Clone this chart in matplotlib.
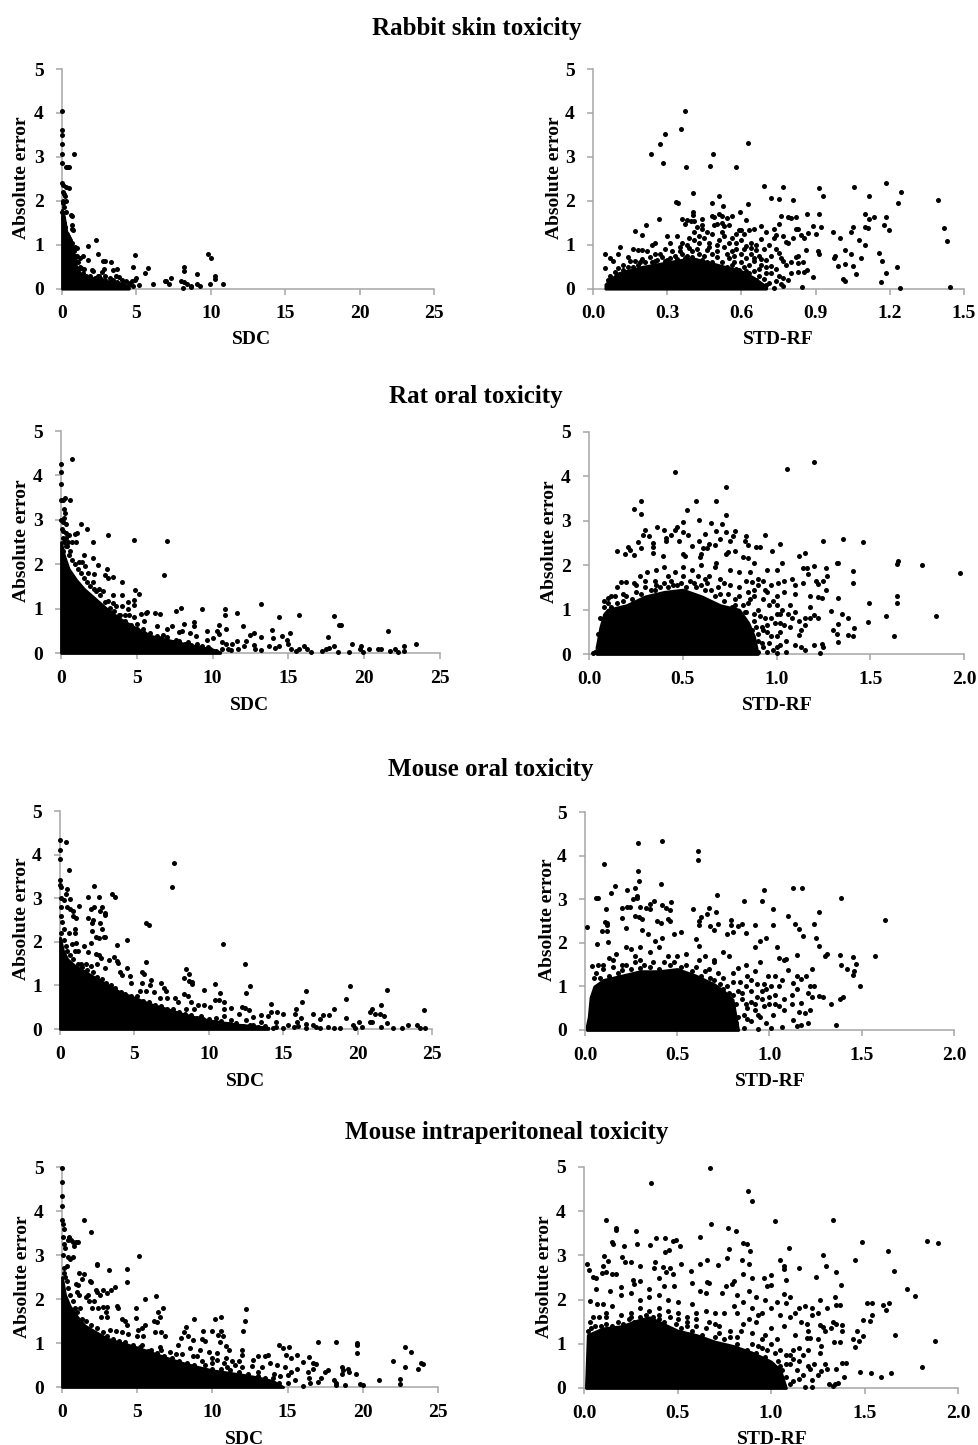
import matplotlib
matplotlib.use("Agg")
import matplotlib.pyplot as plt

W, H = 979, 1445
plt.rcParams['font.family'] = ['Liberation Serif', 'DejaVu Serif']
plt.rcParams['font.weight'] = 'bold'

titles = ["Rabbit skin toxicity", "Rat oral toxicity", "Mouse oral toxicity", "Mouse intraperitoneal toxicity"]
sdc_ticks = [0, 5, 10, 15, 20, 25]
rf_ticks_a = [0.0, 0.3, 0.6, 0.9, 1.2, 1.5]
rf_ticks_b = [0.0, 0.5, 1.0, 1.5, 2.0]
err_ticks = [0, 1, 2, 3, 4, 5]

# Solid black mass of overlapping points: (x, upper error) outline
rabbit_sdc_core = [(0,1.8),(0.1,1.7),(0.3,1.3),(0.5,1.0),(0.7,0.85),(1.0,0.45),(1.3,0.3),(2,0.25),(3,0.18),(4,0.1),(4.5,0.05)]
rabbit_rf_core = [(0.05,0.1),(0.1,0.35),(0.2,0.5),(0.3,0.6),(0.4,0.7),(0.5,0.55),(0.6,0.4),(0.65,0.25),(0.7,0.05)]
rat_sdc_core = [(0,2.5),(0.2,2.2),(0.5,1.9),(1,1.65),(1.5,1.45),(2,1.3),(2.5,1.15),(3,1.0),(3.5,0.87),(4,0.75),(5,0.55),(6,0.38),(7,0.3),(8,0.22),(9,0.15),(10,0.08),(10.5,0.02)]
rat_rf_core = [(0.04,0.15),(0.06,0.6),(0.08,0.9),(0.1,1.0),(0.2,1.1),(0.3,1.3),(0.4,1.4),(0.5,1.45),(0.6,1.3),(0.7,1.1),(0.8,1.0),(0.85,0.7),(0.88,0.4),(0.9,0.0)]
mouse_sdc_core = [(0,2.1),(0.2,1.8),(0.5,1.6),(1,1.45),(1.5,1.35),(2,1.25),(3,1.05),(4,0.85),(5,0.72),(6,0.58),(7,0.48),(8,0.37),(9,0.28),(10,0.2),(11,0.15),(12,0.1),(13,0.07),(14,0.03)]
mouse_rf_core = [(0.01,0.1),(0.02,0.3),(0.03,0.75),(0.05,1.0),(0.1,1.15),(0.2,1.25),(0.3,1.35),(0.4,1.35),(0.5,1.4),(0.6,1.25),(0.7,1.05),(0.75,0.9),(0.8,0.7),(0.83,0.0)]
ip_sdc_core = [(0,2.5),(0.2,2.1),(0.5,1.85),(1,1.6),(1.5,1.4),(2,1.3),(3,1.1),(4,1.0),(5,0.9),(6,0.78),(7,0.66),(8,0.55),(9,0.46),(10,0.38),(11,0.33),(12,0.28),(13,0.22),(14,0.14),(14.7,0.0)]
ip_rf_core = [(0.01,0.0),(0.02,1.2),(0.1,1.35),(0.2,1.4),(0.3,1.55),(0.35,1.6),(0.4,1.5),(0.5,1.3),(0.6,1.2),(0.7,1.05),(0.8,0.95),(0.9,0.8),(0.95,0.7),(1.0,0.6),(1.05,0.4),(1.08,0.0)]

# Individual points: (uncertainty, absolute error)
rabbit_sdc_pts = [(0,4.05),(0,3.62),(0,3.5),(0,3.3),(0.02,3.07),(0.82,3.06),(0,2.85),(0.25,2.78),(0.4,2.76),(0.5,2.77),(0,2.4),(0.1,2.35),(0.3,2.32),(0.5,2.3),(0.1,2.2),(0.2,2.1),(0.05,2.0),(0.6,1.68),(0.65,1.65),(0.65,1.45),(0.7,1.35),(0.75,1.33),(2.3,1.1),(1.75,0.97),(0.9,0.95),(1.0,0.93),(2.4,0.8),(4.9,0.77),(9.8,0.78),(10.0,0.7),(1.4,0.75),(1.2,0.7),(1.75,0.65),(2.75,0.63),(2.9,0.62),(3.3,0.6),(4.8,0.49),(5.8,0.48),(5.6,0.36),(8.2,0.5),(8.2,0.4),(10.25,0.3),(10.3,0.22),(9.05,0.34),(7.3,0.25),(6.9,0.17),(7.0,0.18),(7.2,0.11),(8.0,0.17),(8.2,0.15),(8.4,0.1),(8.15,0.02),(8.65,0.03),(8.7,0.06),(9.05,0.1),(9.25,0.07),(9.95,0.1),(10.85,0.1),(6.1,0.1),(5.2,0.08),(5.0,0.25),(4.9,0.2),(4.7,0.18),(3.7,0.45),(3.4,0.42),(2.85,0.45),(2.7,0.38),(2.0,0.42),(2.1,0.4),(3.6,0.28),(3.85,0.27),(3.2,0.25),(4.3,0.17),(1.5,0.45),(1.3,0.48),(0.4,1.2),(0.55,1.1),(0.7,1.05),(0.8,0.85),(1.0,0.75),(0.9,0.65),(1.2,0.5),(2.5,0.28),(2.9,0.2),(3.3,0.18),(4.0,0.12),(4.5,0.1)]
rabbit_sdc_band = [(0.02,1.75),(0.1,1.6),(0.15,1.5),(0.2,1.4),(0.35,1.25),(0.45,1.15),(0.6,1.0),(0.75,0.9),(0.85,0.75),(1.05,0.6),(1.15,0.45),(1.4,0.35),(1.6,0.28),(1.9,0.3),(2.2,0.25),(2.4,0.3),(2.6,0.22),(2.9,0.28),(3.1,0.12),(3.4,0.2),(3.7,0.15),(4.0,0.2),(4.2,0.08),(4.6,0.14),(4.8,0.06),(0.05,1.95),(0.15,1.85),(0.3,1.75),(0.25,2.0),(0.15,2.15)]
rabbit_rf_pts = [(0.37,4.05),(0.355,3.63),(0.29,3.52),(0.27,3.29),(0.235,3.06),(0.285,2.86),(0.375,2.77),(0.485,3.07),(0.475,2.8),(0.58,2.76),(0.625,3.31),(0.69,2.34),(0.77,2.31),(0.915,2.29),(0.93,2.1),(1.055,2.32),(1.115,2.12),(1.185,2.4),(1.245,2.2),(1.235,1.94),(1.395,2.02),(1.42,1.39),(1.43,1.09),(1.445,0.05),(1.24,0.02),(1.23,0.5),(1.185,0.35),(1.165,0.15),(1.17,0.64),(1.155,0.82),(1.195,1.33),(1.185,1.63),(1.175,1.45),(1.135,1.63),(1.115,1.58),(1.1,1.7),(1.1,1.4),(1.11,1.38),(1.1,1.0),(1.075,1.1),(1.085,0.69),(1.065,0.33),(1.05,1.4),(1.045,1.28),(1.045,0.78),(1.05,0.52),(1.02,0.87),(1.02,0.57),(1.0,1.15),(1.01,0.22),(1.02,0.17),(0.99,0.52),(0.975,0.7),(0.98,0.75),(0.97,1.28),(0.915,1.7),(0.92,1.4),(0.91,0.85),(0.915,0.78),(0.89,1.42),(0.865,1.71),(0.9,1.24),(0.87,1.27),(0.855,1.15),(0.86,0.88),(0.89,0.26),(0.865,0.42),(0.855,0.38),(0.85,0.6),(0.83,0.58),(0.845,0.05),(0.81,2.03),(0.75,2.04),(0.72,2.06),(0.51,2.12),(0.405,2.17),(0.335,1.97),(0.345,1.94),(0.48,1.96),(0.625,1.93),(0.525,1.88),(0.595,1.74),(0.405,1.75),(0.405,1.68),(0.265,1.59),(0.215,1.46),(0.17,1.32),(0.2,1.22),(0.05,0.78),(0.07,0.7),(0.11,0.95),(0.05,0.46),(0.36,1.58),(0.38,1.57),(0.395,1.55),(0.41,1.53),(0.44,1.58),(0.37,1.47),(0.42,1.4),(0.44,1.45),(0.48,1.65),(0.49,1.63),(0.51,1.69),(0.52,1.65),(0.54,1.62),(0.56,1.65),(0.62,1.56),(0.59,1.33),(0.6,1.33),(0.49,1.45),(0.5,1.48),(0.52,1.5),(0.53,1.42),(0.55,1.45),(0.61,1.25),(0.63,1.33),(0.65,1.35),(0.68,1.43),(0.7,1.3),(0.73,1.37),(0.75,1.47),(0.76,1.65),(0.79,1.63),(0.8,1.6),(0.82,1.64),(0.77,1.2),(0.74,1.23),(0.73,1.15),(0.82,1.35),(0.83,1.37),(0.84,1.22),(0.81,1.15),(0.79,1.05),(0.78,1.07),(0.83,0.75),(0.82,0.72),(0.8,0.6),(0.77,0.63),(0.78,0.55),(0.8,0.35),(0.83,0.37),(0.79,0.2),(0.77,0.25),(0.75,0.28),(0.74,0.18),(0.73,0.02),(0.76,0.1),(0.77,0.07),(0.72,0.52),(0.7,0.65),(0.72,0.75),(0.74,0.9),(0.75,0.82),(0.69,0.9),(0.66,1.0),(0.64,1.05),(0.62,0.98),(0.6,1.1),(0.58,1.05),(0.56,1.15),(0.53,1.2),(0.51,1.1),(0.48,1.25),(0.46,1.28),(0.45,1.15),(0.43,1.2),(0.41,1.1),(0.38,1.0),(0.36,1.05),(0.34,1.2),(0.35,0.95),(0.32,0.85),(0.3,1.2),(0.31,1.05),(0.29,0.9),(0.25,1.05),(0.24,1.0),(0.27,0.8),(0.25,0.8),(0.22,0.85),(0.2,0.88),(0.18,0.88),(0.16,0.9),(0.14,0.72),(0.17,0.62),(0.2,0.68),(0.12,0.55),(0.1,0.47),(0.1,0.8),(0.08,0.62),(0.47,0.95),(0.5,0.85),(0.53,0.95),(0.56,0.85),(0.6,0.8),(0.64,0.8),(0.67,0.75),(0.65,0.62),(0.68,0.55),(0.63,0.55),(0.6,0.6),(0.55,0.7),(0.5,0.72),(0.45,0.75),(0.4,0.85),(0.42,0.9),(0.33,0.75),(0.7,0.35),(0.67,0.3),(0.65,0.1),(0.7,0.08),(0.66,0.2),(0.71,0.12),(0.58,0.45),(0.62,0.4),(0.56,0.55),(0.48,0.6),(0.44,0.65),(0.37,0.7),(0.3,0.65),(0.25,0.62)]
rabbit_rf_band = [(0.06,0.2),(0.07,0.3),(0.09,0.38),(0.12,0.42),(0.14,0.5),(0.16,0.5),(0.18,0.55),(0.21,0.6),(0.24,0.6),(0.26,0.65),(0.29,0.62),(0.31,0.7),(0.34,0.68),(0.36,0.8),(0.38,0.75),(0.4,0.72),(0.43,0.8),(0.46,0.6),(0.48,0.8),(0.52,0.6),(0.54,0.5),(0.57,0.6),(0.59,0.42),(0.61,0.5),(0.63,0.35),(0.65,0.4),(0.67,0.45),(0.69,0.22),(0.62,0.7),(0.66,0.88),(0.7,0.5),(0.47,1.05),(0.5,1.0),(0.52,1.3),(0.55,1.05),(0.58,0.9),(0.61,0.9),(0.43,1.05),(0.39,1.15),(0.35,0.85),(0.39,0.92),(0.44,1.35),(0.46,0.88),(0.54,0.8),(0.57,0.75),(0.64,0.92),(0.68,0.68),(0.72,0.35),(0.74,0.45),(0.76,0.7),(0.68,1.12),(0.71,1.0),(0.65,0.7),(0.58,1.25),(0.41,1.3),(0.28,0.72),(0.23,0.72),(0.19,0.6),(0.15,0.62),(0.13,0.38),(0.08,0.12)]
rat_sdc_pts = [(0,4.25),(0,4.07),(0,3.8),(0,3.45),(0.75,4.38),(0.1,3.45),(0.25,3.5),(0.6,3.45),(0.2,3.25),(0.25,3.15),(0.2,3.05),(0,3.0),(0.15,2.95),(1.35,2.9),(1.7,2.8),(0.9,2.67),(1.05,2.7),(3.1,2.65),(4.8,2.55),(7.0,2.52),(6.8,1.75),(2.1,2.5),(1.0,2.5),(0.7,2.5),(0.3,2.7),(0.5,2.65),(0.4,2.4),(0.6,2.3),(1.5,2.2),(2.1,2.13),(2.45,1.98),(1.2,2.05),(1.4,2.05),(1.6,1.95),(3.05,1.9),(2.2,1.78),(1.8,1.8),(2.9,1.75),(3.1,1.68),(3.45,1.72),(4.05,1.6),(2.1,1.6),(1.7,1.6),(2.5,1.45),(2.3,1.4),(2.8,1.4),(4.85,1.43),(5.15,1.33),(4.8,1.2),(4.8,1.08),(4.45,1.15),(4.0,1.3),(3.4,1.3),(3.1,1.18),(3.4,1.12),(3.6,1.05),(4.0,1.05),(4.4,1.0),(3.9,0.85),(4.2,0.85),(4.5,0.85),(4.8,0.82),(5.3,0.87),(5.6,0.9),(5.7,0.92),(6.2,0.9),(6.5,0.88),(7.6,0.95),(7.9,1.02),(9.3,1.0),(10.8,0.99),(10.8,0.85),(11.6,0.9),(13.2,1.1),(14.4,0.8),(15.7,0.85),(18,0.83),(18.35,0.62),(18.5,0.62),(21.6,0.5),(23.4,0.2),(22.6,0.16),(22.6,0.05),(22,0.1),(21.7,0.05),(22.2,0.02),(21.1,0.08),(20.9,0.08),(20.3,0.09),(19.8,0.15),(19.7,0.08),(19.9,0.03),(19.2,0.2),(19,0.03),(18.3,0.03),(18,0.15),(17.6,0.35),(17.7,0.12),(17.5,0.08),(17.2,0.05),(16.5,0.03),(16.2,0.08),(16,0.15),(15.7,0.1),(15.5,0.05),(15.2,0.08),(15.1,0.45),(14.6,0.38),(14.9,0.3),(15,0.2),(14.4,0.15),(14,0.33),(13.9,0.52),(14.1,0.12),(13.7,0.15),(13.2,0.35),(13.2,0.07),(12.7,0.45),(12.5,0.4),(12.7,0.18),(12.8,0.1),(12.2,0.28),(12,0.6),(11.6,0.27),(12.1,0.15),(11.7,0.08),(11.3,0.2),(10.9,0.55),(10.4,0.62),(10.3,0.5),(10.4,0.42),(10,0.33),(9.6,0.5),(9.6,0.3),(9.3,0.15),(8.8,0.7),(8.8,0.6),(8.1,0.65),(8,0.5),(8.5,0.45),(8.9,0.38),(7.8,0.48),(7.3,0.6),(7,0.55),(6.7,0.4),(6.3,0.6),(5.5,0.72),(5,0.65),(5.4,0.55),(10.9,0.2),(11,0.1),(10.6,0.25),(9.8,0.1),(9,0.2),(8.4,0.25),(7.6,0.3)]
rat_sdc_band = [(0.1,2.6),(0.2,2.5),(0.35,2.4),(0.5,2.2),(0.7,2.1),(0.9,2.0),(1.1,1.9),(1.3,1.8),(1.5,1.7),(1.9,1.5),(2.2,1.45),(2.6,1.3),(2.9,1.15),(3.2,1.02),(3.5,0.95),(3.8,0.85),(4.2,0.72),(4.6,0.62),(5.0,0.55),(5.5,0.45),(5.9,0.45),(6.3,0.38),(6.6,0.33),(7.0,0.35),(7.4,0.25),(7.8,0.28),(8.2,0.2),(8.6,0.18),(9.2,0.1),(9.7,0.13),(10.2,0.05),(10.6,0.1),(11.2,0.07),(0.05,2.8),(0.3,2.9),(0.1,2.3),(0.15,2.75),(0.3,2.6),(0.45,2.5)]
rat_rf_pts = [(0.02,0.02),(0.03,0.05),(1.2,4.32),(1.055,4.17),(0.46,4.1),(0.73,3.76),(0.28,3.44),(0.24,3.27),(0.28,3.15),(0.57,3.45),(0.68,3.44),(0.525,3.25),(0.73,3.12),(0.5,2.98),(0.585,3.01),(0.65,2.95),(0.71,2.92),(0.3,2.8),(0.365,2.85),(0.4,2.8),(0.46,2.8),(0.47,2.87),(0.5,2.75),(0.53,2.68),(0.62,2.7),(0.68,2.77),(0.73,2.75),(0.78,2.77),(0.84,2.66),(0.94,2.68),(0.29,2.67),(0.32,2.65),(0.26,2.53),(0.34,2.5),(0.34,2.42),(0.41,2.55),(0.41,2.62),(0.44,2.67),(0.48,2.55),(0.585,2.55),(0.55,2.43),(0.61,2.38),(0.64,2.47),(0.67,2.45),(0.7,2.6),(0.75,2.55),(0.77,2.65),(0.83,2.55),(0.85,2.45),(0.89,2.42),(0.91,2.4),(0.975,2.33),(1.02,2.48),(1.25,2.54),(1.355,2.58),(1.46,2.53),(0.15,2.33),(0.21,2.4),(0.22,2.35),(0.19,2.25),(0.24,2.22),(0.28,2.38),(0.34,2.27),(0.395,2.2),(0.5,2.25),(0.51,2.2),(0.59,2.18),(0.6,2.25),(0.63,2.38),(0.74,2.3),(0.78,2.32),(0.73,2.25),(0.68,2.05),(0.82,2.18),(0.85,2.17),(0.88,2.05),(0.95,1.9),(1.0,1.9),(1.03,2.05),(1.12,2.2),(1.15,2.28),(1.14,1.93),(1.16,1.93),(1.2,1.98),(1.265,1.93),(1.32,2.04),(1.33,2.05),(1.41,1.86),(1.41,1.6),(1.64,2.03),(1.65,2.1),(1.775,2.0),(1.98,1.83),(1.25,1.65),(1.27,1.75),(1.265,1.45),(1.21,1.65),(1.22,1.57),(1.18,1.3),(1.22,1.28),(1.24,1.27),(1.33,1.27),(1.29,0.97),(1.35,0.9),(1.38,0.8),(1.415,0.58),(1.38,0.42),(1.41,0.4),(1.33,0.68),(1.3,0.53),(1.32,0.45),(1.33,0.28),(1.495,1.14),(1.49,0.72),(1.585,0.85),(1.625,0.41),(1.645,1.14),(1.645,1.31),(1.85,0.85),(1.23,0.03),(1.25,0.15),(1.24,0.22),(1.2,0.2),(1.22,0.82),(1.2,0.88),(1.18,0.82),(1.18,1.05),(1.15,0.8),(1.15,0.65),(1.13,0.55),(1.12,0.42),(1.14,1.6),(1.17,1.8),(1.1,1.55),(1.08,1.7),(1.1,1.35),(1.07,1.1),(1.04,1.4),(1.04,1.65),(1.01,1.6),(0.97,1.55),(0.93,1.65),(0.9,1.7),(0.87,1.62),(0.84,1.65),(0.8,1.5),(0.75,1.55),(0.72,1.6),(0.64,1.75),(0.58,1.75),(0.55,1.9),(0.5,1.95),(0.46,1.85),(0.4,1.95),(0.36,1.9),(0.31,1.85),(0.27,1.75),(0.3,1.65),(0.24,1.6),(0.2,1.62),(0.17,1.62),(0.15,1.5),(0.12,1.3),(0.1,1.27),(0.08,1.2),(0.6,2.0),(0.67,1.95),(0.75,1.9),(0.8,1.85),(0.86,1.85),(0.95,1.4),(1.0,1.3),(0.93,1.25),(0.88,1.3),(0.85,1.15),(0.9,1.0),(0.96,1.1),(1.03,1.0),(1.0,0.9),(0.94,0.8),(0.88,0.75),(1.02,0.7),(1.08,0.8),(1.07,0.6),(0.95,0.5),(0.9,0.45),(1.0,0.4),(1.05,0.3),(1.1,0.2),(1.13,0.15),(1.15,0.1),(1.05,0.05),(0.98,0.1),(0.93,0.15),(0.88,0.25),(0.85,0.35),(0.85,0.55),(0.82,0.75),(0.83,0.95),(0.78,1.1),(0.7,1.35),(0.65,1.45),(0.56,1.6),(0.45,1.55),(0.35,1.45),(0.96,0.25),(1.0,0.15),(0.92,0.6),(1.02,0.5),(0.88,0.1),(0.8,0.25),(0.78,0.4),(0.82,0.15),(1.1,0.95),(1.12,0.75)]
rat_rf_band = [(0.1,1.15),(0.12,1.05),(0.15,1.15),(0.18,1.2),(0.2,1.3),(0.23,1.25),(0.25,1.4),(0.28,1.35),(0.3,1.5),(0.33,1.45),(0.36,1.55),(0.38,1.5),(0.4,1.6),(0.42,1.5),(0.44,1.65),(0.47,1.55),(0.49,1.6),(0.52,1.5),(0.54,1.65),(0.57,1.5),(0.6,1.55),(0.62,1.45),(0.63,1.6),(0.67,1.3),(0.69,1.5),(0.72,1.2),(0.74,1.35),(0.76,1.05),(0.78,1.25),(0.8,1.3),(0.82,1.1),(0.84,0.95),(0.86,1.25),(0.88,1.45),(0.84,0.7),(0.87,0.55),(0.89,0.6),(0.91,0.85),(0.93,0.55),(0.9,0.3),(0.92,0.25),(0.95,0.65),(0.97,0.8),(0.99,0.7),(1.02,0.9),(1.04,0.65),(1.0,1.1),(1.06,0.9),(0.98,1.2),(0.9,1.55),(0.94,1.45),(0.85,1.4),(0.88,0.9),(0.85,0.15),(0.83,0.4),(0.86,0.05),(0.9,0.05),(0.95,0.05),(1.0,0.02),(1.02,0.2),(0.97,0.4),(0.35,1.65),(0.5,1.75),(0.62,1.7),(0.7,1.7),(0.42,1.75),(0.25,1.55),(0.18,1.35),(0.14,1.3),(0.08,1.05),(0.06,0.8),(0.05,0.45)]
mouse_sdc_pts = [(0,4.33),(0,4.1),(0,3.9),(0.4,4.28),(0.6,3.65),(0,3.42),(0.02,3.3),(0.1,3.25),(0.45,3.2),(0.4,3.1),(0.1,3.0),(0.3,2.95),(0.65,2.98),(0.1,2.8),(0.5,2.8),(0.7,2.75),(0.85,2.7),(0.9,2.6),(1.05,2.55),(1.25,2.83),(1.85,3.03),(2.3,3.27),(2.65,3.03),(3.5,3.1),(3.7,3.02),(2.85,2.8),(2.3,2.8),(2.1,2.75),(2.7,2.7),(3.05,2.65),(3.05,2.62),(1.9,2.55),(2.25,2.5),(2.15,2.42),(2.7,2.42),(2.85,2.3),(2.15,2.25),(2.4,2.1),(2.65,2.08),(2.95,2.12),(3.0,2.1),(1.0,2.3),(1.0,2.2),(0.6,2.2),(0.8,1.95),(1.05,1.98),(1.6,1.9),(2.1,1.98),(1.9,1.77),(1.2,1.8),(1.0,1.78),(2.6,1.7),(2.45,1.72),(3.85,1.92),(4.5,2.05),(3.6,1.65),(3.85,1.55),(3.9,1.52),(3.3,1.58),(5.75,1.53),(2.75,1.62),(2.5,1.5),(2.1,1.45),(1.75,1.5),(1.4,1.5),(3.0,1.4),(4.5,1.4),(4.0,1.3),(4.2,1.25),(4.7,1.22),(5.5,1.3),(5.65,1.27),(5.5,1.05),(6.1,1.12),(6.05,1.0),(4.75,1.05),(6.8,1.05),(7,0.95),(7.1,0.88),(5.8,2.42),(6.0,2.38),(7.5,3.25),(7.65,3.8),(10.95,1.95),(12.45,1.48),(8.5,1.37),(8.7,1.27),(8.3,1.17),(8.7,1.1),(8.85,1.08),(8.85,1.03),(9.7,0.9),(10.4,1.03),(10.75,0.83),(12.75,0.98),(12.5,0.83),(16.5,0.87),(16.25,0.63),(14.15,0.58),(19.5,0.99),(21.95,0.9),(19.2,0.68),(21,0.47),(21.6,0.55),(20.85,0.4),(21.2,0.35),(21.5,0.35),(21.8,0.3),(19.2,0.25),(18.4,0.45),(18.1,0.33),(17.7,0.32),(17.0,0.35),(15.85,0.47),(15.8,0.35),(24.45,0.43),(24,0.1),(23.4,0.1),(23.0,0.03),(22.4,0.02),(24.2,0.03),(24.5,0.03),(22,0.13),(21.6,0.05),(21,0.15),(20.8,0.15),(20.1,0.15),(19.7,0.1),(20.3,0.05),(19.8,0.03),(18.8,0.03),(18.4,0.03),(17.5,0.23),(17,0.1),(16.5,0.12),(16.2,0.25),(15.9,0.15),(15,0.35),(14.6,0.4),(14.2,0.4),(14,0.3),(13.5,0.33),(13,0.27),(12.7,0.43),(12.4,0.48),(12.2,0.5),(12,0.35),(11.5,0.48),(11,0.45),(11,0.62),(10.7,0.67),(10.4,0.67),(10.1,0.5),(9.7,0.55),(9.3,0.55),(8.8,0.62),(8.3,0.8),(8.6,0.75),(7.7,0.7),(7.9,0.62),(7.2,0.72),(6.7,0.7),(6.3,0.85),(5.8,0.88),(5.4,0.87),(9.5,0.3),(10.5,0.25),(11.5,0.2),(12.5,0.2),(13.5,0.15),(14.5,0.15),(15.3,0.1),(16,0.08),(17.2,0.05),(18,0.05),(13,0.1),(14.5,0.05),(11,0.3),(9,0.45),(8.5,0.45)]
mouse_sdc_band = [(0.1,2.2),(0.15,2.45),(0.05,2.6),(0.3,2.3),(0.25,2.05),(0.4,1.9),(0.5,1.8),(0.7,1.7),(0.9,1.6),(1.2,1.5),(1.5,1.42),(1.8,1.35),(2.2,1.3),(2.5,1.2),(2.8,1.15),(3.1,1.05),(3.4,1.0),(3.7,0.95),(4.1,0.85),(4.4,0.8),(4.8,0.75),(5.2,0.75),(5.6,0.65),(6,0.62),(6.4,0.55),(6.8,0.52),(7.2,0.45),(7.6,0.45),(8,0.38),(8.4,0.35),(8.8,0.33),(9.2,0.25),(9.6,0.22),(10,0.23),(10.4,0.15),(10.8,0.18),(11.3,0.12),(11.8,0.13),(12.3,0.08),(12.8,0.1),(13.3,0.05),(13.8,0.08),(14.3,0.03),(15,0.03),(15.7,0.04),(16.5,0.03),(17.5,0.03)]
mouse_rf_pts = [(0.01,2.37),(0.04,1.47),(0.06,3.03),(0.07,3.02),(0.105,3.8),(0.14,3.15),(0.165,3.3),(0.23,3.22),(0.26,3.0),(0.27,3.25),(0.285,4.28),(0.285,3.65),(0.29,3.42),(0.28,3.08),(0.28,3.03),(0.42,4.33),(0.41,3.35),(0.61,3.9),(0.615,4.1),(0.715,3.1),(0.97,3.2),(1.13,3.26),(1.175,3.25),(1.385,3.03),(1.625,2.52),(0.86,2.95),(0.96,2.95),(1.02,2.77),(1.1,2.62),(1.27,2.71),(0.115,2.77),(0.11,2.47),(0.12,2.45),(0.12,2.4),(0.09,2.28),(0.12,2.27),(0.125,2.02),(0.065,1.98),(0.2,2.8),(0.23,2.82),(0.245,2.83),(0.2,2.57),(0.22,2.34),(0.3,2.83),(0.27,2.62),(0.29,2.6),(0.31,2.55),(0.33,2.8),(0.355,2.78),(0.355,2.88),(0.375,2.95),(0.42,2.87),(0.39,2.5),(0.41,2.45),(0.44,2.8),(0.46,2.75),(0.45,2.55),(0.46,2.5),(0.465,2.93),(0.585,2.77),(0.63,2.6),(0.62,2.5),(0.62,2.4),(0.66,2.67),(0.67,2.8),(0.71,2.7),(0.72,2.42),(0.68,2.38),(0.7,2.3),(0.79,2.53),(0.79,2.4),(0.83,2.38),(0.85,2.42),(0.92,2.4),(1.02,2.4),(0.8,2.25),(0.77,2.2),(0.87,2.22),(0.95,2.05),(0.98,2.1),(0.62,1.93),(0.6,2.08),(0.52,2.25),(0.48,2.2),(0.42,2.1),(0.38,2.05),(0.34,2.2),(0.31,2.3),(0.3,1.9),(0.25,1.85),(0.22,1.9),(0.17,1.75),(0.13,1.65),(0.1,1.5),(0.07,1.5),(0.05,1.2),(0.2,1.5),(0.3,1.6),(0.4,1.9),(0.5,1.7),(0.55,1.75),(0.65,1.7),(0.7,1.55),(0.75,1.8),(0.78,1.7),(0.83,1.42),(0.87,1.5),(0.95,1.55),(0.92,1.9),(1.05,1.65),(1.08,1.6),(1.09,1.63),(1.04,1.9),(1.14,2.43),(1.16,2.32),(1.18,2.15),(1.24,2.42),(1.25,2.12),(1.27,1.93),(1.15,1.73),(1.3,1.7),(1.31,1.75),(1.38,1.72),(1.385,1.5),(1.42,1.4),(1.455,1.67),(1.47,1.52),(1.46,1.35),(1.455,1.27),(1.57,1.7),(1.49,1.02),(1.4,0.75),(1.38,0.7),(1.335,0.6),(1.36,0.12),(1.29,0.75),(1.27,0.78),(1.23,1.4),(1.24,1.02),(1.22,1.0),(1.2,1.23),(1.21,0.85),(1.23,0.75),(1.13,1.07),(1.15,1.23),(1.17,1.18),(1.15,0.95),(1.17,0.62),(1.19,0.4),(1.22,0.45),(1.21,0.15),(1.16,0.42),(1.13,0.22),(1.15,0.1),(1.17,0.12),(1.08,0.45),(1.07,0.08),(1.08,0.7),(1.12,0.8),(1.1,1.37),(1.07,1.15),(1.03,1.25),(0.99,1.25),(1.01,1.0),(1.03,0.8),(0.96,0.9),(0.93,0.75),(0.9,1.15),(0.87,1.0),(0.83,0.9),(0.8,1.1),(0.75,1.2),(0.72,1.3),(0.67,1.4),(0.85,0.7),(0.88,0.5),(0.92,0.45),(0.97,0.55),(1.02,0.35),(0.98,0.15),(1.01,0.05),(0.94,0.02),(0.9,0.2),(0.86,0.05),(0.83,0.3),(0.8,0.5),(0.82,0.6),(0.78,0.85),(0.9,0.65),(1.0,0.6),(0.95,0.3),(1.05,0.55),(0.8,0.1),(0.86,0.35),(0.92,1.35),(0.97,1.05),(1.12,0.6)]
mouse_rf_band = [(0.06,1.3),(0.08,1.2),(0.1,1.4),(0.13,1.25),(0.15,1.45),(0.18,1.3),(0.2,1.38),(0.22,1.5),(0.25,1.4),(0.27,1.55),(0.3,1.42),(0.32,1.5),(0.35,1.45),(0.37,1.55),(0.4,1.4),(0.43,1.55),(0.46,1.5),(0.48,1.55),(0.52,1.45),(0.55,1.5),(0.58,1.35),(0.6,1.45),(0.63,1.25),(0.65,1.35),(0.68,1.2),(0.7,1.15),(0.73,1.05),(0.75,0.95),(0.77,1.0),(0.8,0.8),(0.8,0.35),(0.82,0.15),(0.85,0.85),(0.87,0.6),(0.88,0.25),(0.9,0.9),(0.92,0.6),(0.94,0.35),(0.96,0.7),(0.98,0.95),(1.0,0.75),(1.03,0.6),(1.05,1.0),(0.93,1.05),(0.88,1.25),(0.84,1.1),(0.8,1.3),(0.7,1.6),(0.62,1.6),(0.45,1.7),(0.35,1.8),(0.27,1.7),(0.15,1.6)]
ip_sdc_pts = [(0,4.98),(0,4.65),(0,4.35),(0,4.12),(0,3.8),(0.05,3.7),(0.1,3.6),(1.45,3.8),(1.9,3.53),(0.05,3.4),(0.4,3.35),(0.45,3.42),(0.6,3.35),(0.7,3.3),(0.9,3.3),(1.05,3.3),(0.8,3.2),(0.1,3.25),(0.2,3.15),(0.05,3.0),(5.1,2.98),(0.4,2.95),(0.7,2.95),(0.55,2.9),(0.35,2.75),(0.15,2.7),(1.15,2.6),(1.45,2.57),(2.3,2.8),(2.35,2.78),(3.1,2.66),(4.3,2.68),(4.35,2.38),(0.9,2.35),(1.05,2.32),(1.3,2.45),(1.85,2.42),(1.95,2.38),(3.5,2.27),(3.25,2.2),(2.7,2.2),(3,2.13),(2.25,2.2),(2.35,2.15),(2.5,2.08),(1.7,2.1),(1.6,2.05),(1.0,2.15),(1.15,2.1),(6.25,2.07),(5.5,2.0),(4.9,1.8),(3.65,1.85),(3.75,1.8),(6.7,1.8),(6.4,1.7),(6.5,1.6),(2.1,1.95),(1.8,1.95),(2.0,1.8),(2.4,1.8),(2.7,1.82),(3,1.82),(2.9,1.7),(3,1.6),(1.2,1.8),(2.6,1.6),(4,1.55),(4.2,1.5),(4.35,1.42),(4.9,1.57),(5.5,1.4),(5.35,1.35),(6.1,1.5),(6.3,1.47),(8.75,1.55),(10.2,1.55),(10.6,1.58),(12.25,1.78),(12.2,1.5),(12.05,1.27),(8.25,1.37),(9.35,1.27),(9.95,1.27),(10.55,1.27),(5.05,1.3),(3.2,1.3),(3.6,1.28),(4,1.25),(4.4,1.2),(5,1.15),(5.4,1.15),(6.2,1.25),(6.6,1.25),(6.85,1.15),(7.9,1.12),(8.1,1.25),(8.4,1.15),(8.7,1.07),(9.3,1.1),(9.5,1.05),(10.35,1.18),(10.7,1.15),(10.5,1.02),(10.9,0.93),(11.1,0.85),(12,0.83),(12,0.73),(14.4,0.95),(14.7,0.88),(15.1,0.9),(15.65,0.73),(16.4,0.68),(17,1.02),(18.25,1.02),(19.6,1.0),(19.6,0.95),(19.6,0.78),(22.8,0.9),(23.2,0.8),(22,0.6),(24,0.52),(23.9,0.55),(23.7,0.42),(22.8,0.46),(19.55,0.29),(19.8,0.06),(20,0.05),(21.1,0.17),(22.5,0.18),(22.5,0.07),(19,0.42),(19.05,0.35),(18.65,0.45),(18.7,0.38),(18.6,0.3),(18.8,0.05),(18.2,0.1),(18.1,0.17),(18.2,0.05),(17.7,0.38),(17.5,0.35),(17.2,0.2),(17,0.12),(16.9,0.53),(16.7,0.55),(16.7,0.42),(16.35,0.35),(16.45,0.2),(16.5,0.1),(16,0.02),(16,0.57),(15.6,0.4),(15.5,0.15),(15.25,0.65),(15.2,0.35),(14.9,0.72),(14.8,0.45),(14.3,0.5),(15,0.1),(14.5,0.25),(14.1,0.3),(13.7,0.72),(13.5,0.7),(13,0.7),(12.7,0.62),(13.8,0.55),(13.3,0.45),(12.6,0.48),(11.8,0.6),(11.3,0.58),(10.9,0.65),(10.3,0.78),(9.8,0.8),(9.2,0.85),(8.5,0.88),(8,0.75),(7.7,0.95),(7.2,0.8),(6.6,0.85),(5.9,0.85),(5.3,0.95),(9.3,0.6),(10,0.55),(11,0.45),(12,0.45),(13,0.35),(14,0.1),(15,0.28),(8.7,0.7),(10.3,0.62),(11.8,0.35)]
ip_sdc_band = [(0.1,2.6),(0.2,2.5),(0.3,2.4),(0.4,2.25),(0.5,2.1),(0.7,1.95),(0.85,1.8),(1,1.7),(1.3,1.55),(1.6,1.5),(1.9,1.4),(2.3,1.35),(2.7,1.25),(3,1.15),(3.4,1.1),(3.8,1.05),(4.2,1.02),(4.7,0.95),(5.2,0.9),(5.7,0.82),(6.3,0.78),(6.8,0.7),(7.3,0.65),(7.8,0.6),(8.3,0.55),(8.8,0.5),(9.5,0.5),(10,0.42),(10.6,0.42),(11.2,0.38),(11.8,0.3),(12.4,0.3),(13,0.25),(13.5,0.2),(14,0.2),(14.4,0.08),(10,0.65),(10.8,0.55),(11.5,0.5),(9,0.7),(7.6,0.75),(6.5,0.9)]
ip_rf_pts = [(0.675,4.98),(0.36,4.63),(0.875,4.45),(0.9,4.23),(0.115,3.8),(1.02,3.78),(1.33,3.79),(0.17,3.63),(0.17,3.58),(0.28,3.56),(0.68,3.7),(0.77,3.63),(0.815,3.55),(0.62,3.41),(0.385,3.39),(0.435,3.39),(0.475,3.32),(0.49,3.35),(0.15,3.3),(0.155,3.25),(0.215,3.22),(0.285,3.25),(0.355,3.23),(0.515,3.22),(0.85,3.28),(0.87,3.26),(0.775,3.15),(0.89,3.1),(1.095,3.17),(1.485,3.3),(1.835,3.32),(1.895,3.29),(1.625,3.1),(1.28,3.02),(0.435,3.08),(0.455,3.12),(0.105,2.98),(0.205,2.96),(0.13,2.87),(0.22,2.85),(0.25,2.85),(0.38,2.84),(0.52,2.81),(0.62,2.8),(0.66,2.89),(0.715,2.79),(0.765,2.93),(0.845,2.9),(0.88,2.8),(1.05,2.9),(1.07,2.75),(1.07,2.7),(1.45,2.89),(1.295,2.77),(0.015,2.8),(0.025,2.68),(0.05,2.52),(0.065,2.5),(0.1,2.77),(0.095,2.6),(0.12,2.62),(0.15,2.58),(0.17,2.58),(0.3,2.77),(0.375,2.72),(0.425,2.74),(0.46,2.72),(0.44,2.62),(0.475,2.58),(0.57,2.64),(0.85,2.58),(0.96,2.5),(1.0,2.55),(0.9,2.48),(1.08,2.45),(1.15,2.72),(1.24,2.52),(1.35,2.63),(1.375,2.32),(1.66,2.64),(1.725,2.24),(1.77,2.08),(0.065,2.24),(0.03,1.97),(0.14,2.2),(0.27,2.35),(0.3,2.42),(0.26,2.45),(0.4,2.5),(0.35,2.25),(0.43,2.3),(0.48,2.3),(0.58,2.38),(0.66,2.4),(0.67,2.38),(0.76,2.3),(0.79,2.35),(0.8,2.42),(0.98,2.3),(1.0,2.33),(0.2,2.28),(0.2,2.1),(0.25,2.15),(0.3,2.0),(0.35,2.05),(0.4,2.1),(0.45,2.0),(0.5,1.95),(0.58,1.9),(0.62,2.2),(0.65,2.15),(0.74,2.15),(0.82,2.1),(0.88,2.2),(0.92,2.05),(0.97,2.0),(1.03,1.95),(1.07,2.12),(1.08,1.93),(1.1,2.05),(1.15,1.8),(1.18,1.85),(1.22,1.8),(1.26,1.98),(1.3,1.82),(1.34,2.05),(1.35,1.88),(1.37,1.88),(1.49,1.54),(1.515,1.92),(1.54,1.93),(1.53,1.52),(1.54,1.66),(1.6,1.88),(1.615,1.77),(1.63,1.93),(1.665,1.2),(1.875,1.07),(1.81,0.48),(1.64,0.35),(1.59,0.26),(1.535,0.35),(1.475,0.37),(1.39,0.25),(1.4,0.56),(1.38,0.56),(1.35,0.44),(1.36,0.12),(1.33,0.05),(1.31,0.1),(1.34,0.1),(1.49,1.17),(1.46,1.28),(1.44,1.1),(1.45,0.93),(1.47,1.07),(1.37,1.03),(1.38,1.28),(1.38,1.42),(1.33,1.49),(1.35,1.45),(1.32,1.35),(1.335,1.03),(1.29,1.3),(1.25,1.7),(1.26,1.42),(1.28,1.38),(1.22,1.65),(1.19,1.45),(1.16,1.5),(1.13,1.7),(1.1,1.6),(1.05,1.65),(1.0,1.8),(0.95,1.7),(0.9,1.8),(0.85,1.95),(0.8,1.85),(0.75,1.7),(0.7,1.7),(0.65,1.75),(0.6,1.7),(0.55,1.6),(0.5,1.7),(0.45,1.75),(0.4,1.8),(0.35,1.75),(0.3,1.8),(0.25,1.7),(0.2,1.65),(0.15,1.85),(0.1,1.9),(0.07,1.9),(0.05,1.6),(0.03,1.5),(0.12,1.6),(0.55,1.4),(0.65,1.35),(0.72,1.4),(0.78,1.3),(0.85,1.45),(0.92,1.5),(1.0,1.35),(1.07,1.4),(1.13,1.2),(1.2,1.3),(1.25,1.1),(1.27,0.95),(1.26,0.8),(1.29,0.55),(1.3,0.42),(1.27,0.38),(1.23,0.55),(1.21,0.42),(1.22,0.18),(1.18,0.02),(1.22,0.02),(1.25,0.3),(1.17,0.75),(1.15,0.9),(1.12,0.85),(1.08,0.75),(1.05,0.85),(1.03,1.1),(0.95,1.1),(0.9,1.25),(0.82,1.15),(0.98,0.85),(1.1,0.55),(1.14,0.4),(1.08,0.25),(1.05,0.5),(1.12,0.15),(1.07,0.05),(1.0,0.3),(1.17,0.3),(0.93,0.95),(1.19,1.12),(1.21,1.12),(1.2,0.85)]
ip_rf_band = [(0.02,1.3),(0.04,1.35),(0.06,1.4),(0.09,1.4),(0.12,1.45),(0.15,1.4),(0.18,1.5),(0.21,1.45),(0.24,1.55),(0.27,1.5),(0.3,1.6),(0.33,1.65),(0.37,1.6),(0.4,1.55),(0.43,1.5),(0.46,1.6),(0.49,1.45),(0.52,1.35),(0.55,1.5),(0.58,1.3),(0.6,1.4),(0.63,1.2),(0.67,1.5),(0.7,1.15),(0.72,1.25),(0.75,1.1),(0.78,1.15),(0.82,1.0),(0.84,1.3),(0.87,0.85),(0.9,1.0),(0.92,0.8),(0.95,0.9),(0.97,0.7),(1.0,1.0),(1.02,0.8),(1.04,0.6),(1.06,0.4),(1.08,0.55),(1.1,0.75),(1.12,0.65),(1.15,0.6),(1.05,0.15),(1.1,0.1),(1.15,0.2),(1.2,0.5),(1.03,0.3),(0.97,1.2),(0.88,1.55),(0.93,1.65),(0.82,1.7),(0.7,1.45),(0.6,1.55),(0.5,1.55),(0.4,1.65),(0.25,1.6),(0.12,1.7),(0.08,1.6)]

fig = plt.figure(figsize=(W / 100, H / 100), dpi=100, facecolor='white')

def fx(px): return px / W
def fy(py): return 1 - py / H

def panel(box, xlim, xticks, xfmt, pts, band, core, xlabel, xl_pos, yl_pos):
    x0, x1, y5, y0 = box
    ax = fig.add_axes([fx(x0), fy(y0), (x1 - x0) / W, (y0 - y5) / H])
    ax.set_xlim(0, xlim)
    ax.set_ylim(0, 5)
    cx, cy = zip(*core)
    ax.fill_between(cx, 0, cy, color='black', lw=2, clip_on=False, zorder=3)
    px, py = zip(*(pts + band))
    ax.scatter(px, py, s=13, c='black', linewidths=0, clip_on=False, zorder=4)
    for s in ('top', 'right'):
        ax.spines[s].set_visible(False)
    for s in ('left', 'bottom'):
        ax.spines[s].set_color('#a6a6a6')
        ax.spines[s].set_linewidth(1.1)
    ax.set_xticks(xticks)
    ax.set_xticklabels([xfmt.format(v) for v in xticks])
    ax.set_yticks(err_ticks)
    ax.tick_params(axis='both', color='#a6a6a6', width=1.1, length=4.5, labelsize=14)
    ax.tick_params(axis='y', pad=8.5)
    ax.tick_params(axis='x', pad=7.5)
    fig.text(fx(xl_pos[0]), fy(xl_pos[1] + 2), xlabel, ha='center', va='center', fontsize=14)
    fig.text(fx(yl_pos[0] + 2), fy(yl_pos[1]), 'Absolute error', ha='center', va='center', rotation=90, fontsize=14)

panel((62, 434, 69, 288.7), 25, sdc_ticks, '{:d}', rabbit_sdc_pts, rabbit_sdc_band, rabbit_sdc_core, 'SDC', (252, 337), (20, 178))
panel((593, 964, 69, 288.7), 1.5, rf_ticks_a, '{:.1f}', rabbit_rf_pts, rabbit_rf_band, rabbit_rf_core, 'STD-RF', (778, 338), (553, 178))
panel((61, 440, 431, 653), 25, sdc_ticks, '{:d}', rat_sdc_pts, rat_sdc_band, rat_sdc_core, 'SDC', (250, 704), (20, 541))
panel((589, 964, 432, 654), 2.0, rf_ticks_b, '{:.1f}', rat_rf_pts, rat_rf_band, rat_rf_core, 'STD-RF', (777, 704), (548, 542))
panel((60, 432, 811, 1029), 25, sdc_ticks, '{:d}', mouse_sdc_pts, mouse_sdc_band, mouse_sdc_core, 'SDC', (246, 1079), (20, 919))
panel((585, 954, 812, 1030), 2.0, rf_ticks_b, '{:.1f}', mouse_rf_pts, mouse_rf_band, mouse_rf_core, 'STD-RF', (770, 1079), (545, 920))
panel((62, 438, 1167, 1387), 25, sdc_ticks, '{:d}', ip_sdc_pts, ip_sdc_band, ip_sdc_core, 'SDC', (245, 1437), (21, 1277))
panel((584, 958, 1167, 1388), 2.0, rf_ticks_b, '{:.1f}', ip_rf_pts, ip_rf_band, ip_rf_core, 'STD-RF', (772, 1437), (543, 1277))

title_pos = [(477, 26), (476, 395), (491, 768), (507, 1130)]
for t, (tx, ty) in zip(titles, title_pos):
    fig.text(fx(tx), fy(ty + 2), t, ha='center', va='center', fontsize=18)

fig.savefig('out.png', dpi=100)
